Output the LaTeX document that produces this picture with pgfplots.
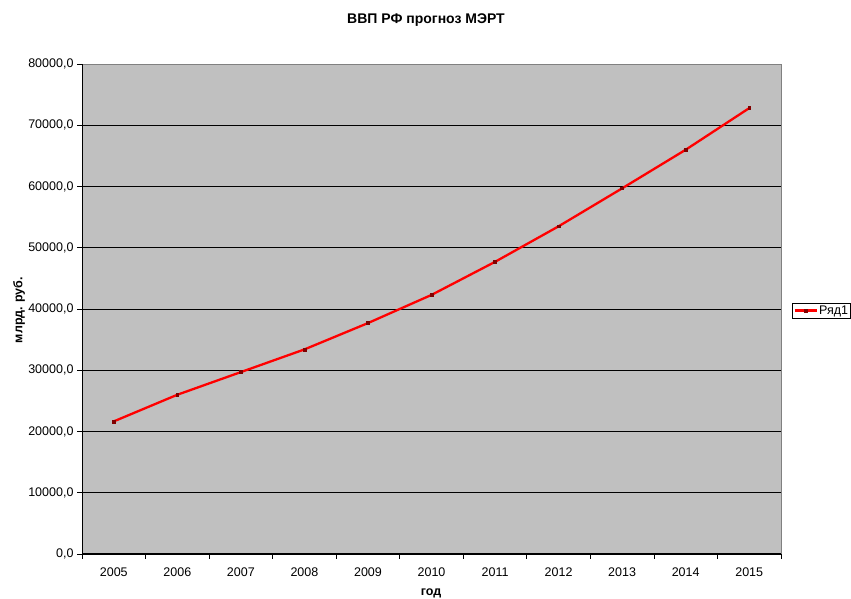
\documentclass[border=0pt]{standalone}
\usepackage{fontspec}
\setmainfont{Liberation Sans}
\usepackage{pgfplots}
\pgfplotsset{compat=1.18}
\definecolor{plotgray}{RGB}{192,192,192}
\definecolor{framegray}{RGB}{128,128,128}
\definecolor{markred}{RGB}{128,0,0}

\begin{document}
\begin{tikzpicture}[x=1pt,y=1pt]
\path[use as bounding box] (0,0) rectangle (851,599);
\begin{axis}[
  at={(82pt,45pt)}, anchor=south west,
  scale only axis, width=699pt, height=490pt,
  xmin=-0.5, xmax=10.5, ymin=0, ymax=80000,
  xtick={0,1,2,3,4,5,6,7,8,9,10},
  xticklabels={2005,2006,2007,2008,2009,2010,2011,2012,2013,2014,2015},
  major x tick style={draw=none},
  minor xtick={-0.5,0.5,1.5,2.5,3.5,4.5,5.5,6.5,7.5,8.5,9.5,10.5},
  ytick={0,10000,20000,30000,40000,50000,60000,70000,80000},
  scaled y ticks=false,
  yticklabel style={/pgf/number format/.cd, fixed, fixed zerofill, precision=1,
    use comma, 1000 sep={}, assume math mode=true},
  tick pos=left,
  tick align=outside,
  major tick length=5pt, minor tick length=5pt,
  tick style={black, line width=0.8pt},
  ticklabel style={font=\fontsize{12.5}{14}\selectfont},
  xticklabel style={yshift=-5pt},
  ymajorgrids,
  grid style={black, line width=0.8pt},
  axis line style={draw=framegray, line width=1pt},
  axis background/.style={fill=plotgray},
  legend style={at={(1.0157,0.497)}, anchor=west, draw=black, fill=white,
    font=\fontsize{12.5}{14}\selectfont, inner xsep=1pt, inner ysep=0.5pt,
    line width=0.8pt, nodes={inner xsep=1.5pt, inner ysep=2pt}},
  legend image code/.code={\draw[mark repeat=2,mark phase=2] plot coordinates {(0pt,0pt)(11pt,0pt)(22pt,0pt)};},
  clip=false,
]
\addplot[red, line width=2.3pt, mark=square*, mark size=1.4pt,
  mark options={fill=markred, draw=markred, line width=0.5pt}]
  coordinates {
  (0,21650) (1,26000) (2,29700) (3,33400) (4,37700) (5,42300)
  (6,47700) (7,53500) (8,59700) (9,66000) (10,72800)
  };
\addlegendentry{Ряд1}
\draw[black, line width=1pt] (rel axis cs:0,1) -- (rel axis cs:0,0) -- (rel axis cs:1,0);
\end{axis}
\node[font=\bfseries\fontsize{14}{16}\selectfont] at (426,579) {ВВП РФ прогноз МЭРТ};
\node[font=\bfseries\fontsize{12.5}{14}\selectfont, rotate=90] at (19,289) {млрд. руб.};
\node[font=\bfseries\fontsize{12.5}{14}\selectfont] at (431,6) {год};
\end{tikzpicture}
\end{document}
